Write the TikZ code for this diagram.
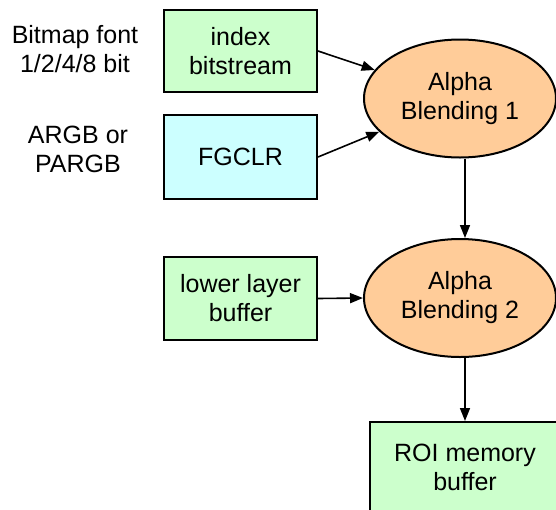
\documentclass[tikz,border=0pt]{standalone}
\usepackage{fontspec}
\setmainfont{Liberation Sans}
\usetikzlibrary{shapes.geometric,arrows.meta}
\definecolor{boxgreen}{HTML}{CCFFCC}
\definecolor{boxcyan}{HTML}{CCFFFF}
\definecolor{ellorange}{HTML}{FFCC99}
\begin{document}
\begin{tikzpicture}[x=1pt,y=-1pt,
  every node/.style={font=\fontsize{25}{29}\selectfont, align=center},
  inbox/.style={draw=black, line width=2pt, rectangle, minimum width=153pt, inner sep=0pt},
  blend/.style={draw=black, line width=2pt, ellipse, fill=ellorange, minimum width=192pt, minimum height=118pt, inner sep=0pt},
  conn/.style={line width=1.6pt, -{Triangle[length=13pt,width=10pt]}}]
\useasboundingbox (0,0) rectangle (556,509);
\clip (0,0) rectangle (556,509);
\node (lab1) at (75,49) {Bitmap font\\1/2/4/8 bit};
\node (lab2) at (78,149) {ARGB or\\PARGB};
\node[inbox, fill=boxgreen, minimum height=82pt] (b1) at (240.5,51) {index\\bitstream};
\node[inbox, fill=boxcyan, minimum height=84pt] (b2) at (240.5,157) {FGCLR};
\node[inbox, fill=boxgreen, minimum height=83pt] (b3) at (240.5,298.5) {lower layer\\buffer};
\node[blend] (e1) at (460,98.5) {Alpha\\Blending 1};
\node[blend] (e2) at (460,298) {Alpha\\Blending 2};
\node[inbox, fill=boxgreen, minimum width=190pt, minimum height=90pt] (roi) at (465,467) {ROI memory\\buffer};
\draw[conn] (b1.east) -- (e1);
\draw[conn] (b2.east) -- (e1);
\draw[conn] (b3.east) -- (e2.west);
\draw[conn] ([xshift=5pt]e1.south) -- ([xshift=5pt]e2.north);
\draw[conn] ([xshift=5pt]e2.south) -- (roi.north);
\end{tikzpicture}
\end{document}
